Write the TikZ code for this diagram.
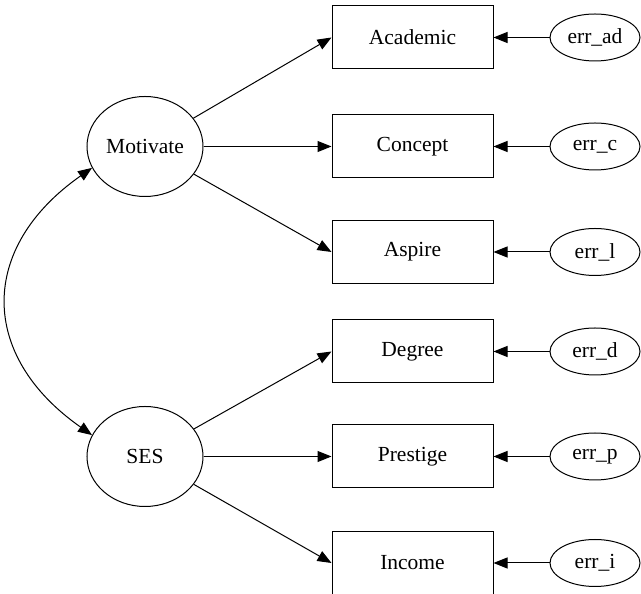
\documentclass[tikz,border=0pt]{standalone}
\usepackage{fontspec}
\setmainfont{Liberation Serif}
\usetikzlibrary{shapes.geometric, arrows.meta, positioning}
\tikzset{
  latentnode/.style={ellipse, draw, line width=1pt, minimum width=116pt, minimum height=100pt, inner sep=0pt},
  obsbox/.style={rectangle, draw, line width=1pt, minimum width=161pt, minimum height=63pt, inner sep=0pt},
  errnode/.style={ellipse, draw, line width=1pt, minimum width=90pt, minimum height=47pt, inner sep=0pt},
  arrow/.style={-{Triangle[length=14pt, width=11pt]}, line width=1pt},
  dblarrow/.style={{Triangle[length=14pt, width=11pt]}-{Triangle[length=14pt, width=11pt]}, line width=1pt}
}
\begin{document}
\begin{tikzpicture}[x=1pt, y=1pt, font=\fontsize{21.5}{26}\selectfont]
  \useasboundingbox (0,0) rectangle (641,594);
  % latent variables
  \node[latentnode] (mot) at (145,447.5) {Motivate};
  \node[latentnode] (ses) at (145,137.5) {SES};
  % indicators
  \node[obsbox] (acad) at (412.5,556.5) {Academic};
  \node[obsbox] (conc) at (412.5,447.5) {Concept};
  \node[obsbox] (asp)  at (412.5,342) {Aspire};
  \node[obsbox] (deg)  at (412.5,242.5) {Degree};
  \node[obsbox] (pres) at (412.5,137.5) {Prestige};
  \node[obsbox] (inc)  at (412.5,31) {Income};
  % error terms
  \node[errnode] (errad) at (595,556.5) {err\_ad};
  \node[errnode] (errc)  at (595,447.5) {err\_c};
  \node[errnode] (errl)  at (595,342) {err\_l};
  \node[errnode] (errd)  at (595,242.5) {err\_d};
  \node[errnode] (errp)  at (595,137.5) {err\_p};
  \node[errnode] (erri)  at (595,31) {err\_i};

  \draw[arrow] (mot) -- (acad.west);
  \draw[arrow] (mot) -- (conc.west);
  \draw[arrow] (mot) -- (asp.west);
  \draw[arrow] (ses) -- (deg.west);
  \draw[arrow] (ses) -- (pres.west);
  \draw[arrow] (ses) -- (inc.west);
  \foreach \e/\o in {errad/acad, errc/conc, errl/asp, errd/deg, errp/pres, erri/inc}
    \draw[arrow] (\e) -- (\o);
  % covariance
  \draw[dblarrow] (mot.202) to[out=215, in=145, looseness=1.33] (ses.158);
\end{tikzpicture}
\end{document}
